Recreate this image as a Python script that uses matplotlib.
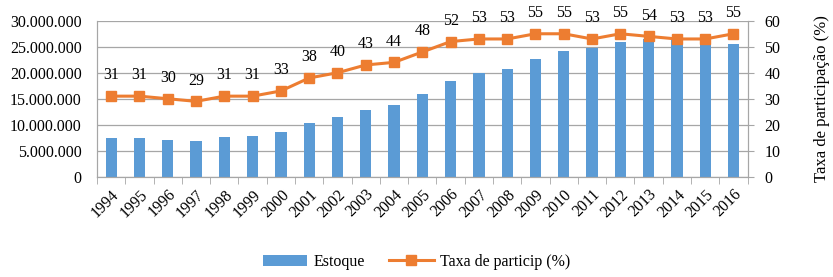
import matplotlib
matplotlib.use("Agg")
import matplotlib.pyplot as plt
import numpy as np
from matplotlib.ticker import FuncFormatter, FixedLocator

years = [str(y) for y in range(1994, 2017)]
estoque = [7.5e6, 7.5e6, 7.05e6, 6.86e6, 7.63e6, 7.82e6, 8.59e6, 10.32e6, 11.47e6, 12.82e6,
           13.78e6, 16.0e6, 18.4e6, 20.0e6, 20.7e6, 22.6e6, 24.2e6, 24.7e6, 25.9e6, 26.5e6,
           26.3e6, 25.6e6, 25.5e6]
taxa = [31, 31, 30, 29, 31, 31, 33, 38, 40, 43, 44, 48, 52, 53, 53, 55, 55, 53, 55, 54, 53, 53, 55]

plt.rcParams['font.family'] = ['Liberation Serif', 'DejaVu Serif']
fs = 11.5
fig = plt.figure(figsize=(8.33, 2.77), dpi=100)
ax = fig.add_axes([0.1165, 0.362, 0.781, 0.563])
ax2 = ax.twinx()

x = np.arange(len(years))
bar_c = '#5B9BD5'
line_c = '#ED7D31'
grid_c = '#A6A6A6'

ax.bar(x, estoque, width=0.4, color=bar_c, zorder=2, label='Estoque')
ax.set_ylim(0, 30e6)
ax.set_yticks(np.arange(0, 30e6 + 1, 5e6))
ax.yaxis.set_major_formatter(FuncFormatter(lambda v, p: f"{int(v):,}".replace(',', '.')))
ax.set_xlim(-0.5, len(years) - 0.5)
ax.set_xticks(x)
ax.set_xticklabels(years, rotation=45, ha='right', rotation_mode='anchor', fontsize=fs)
ax.xaxis.set_minor_locator(FixedLocator(np.arange(-0.5, len(years), 1)))
ax.tick_params(axis='x', which='major', length=0, pad=7)
ax.tick_params(axis='x', which='minor', length=5, color=grid_c)
ax.tick_params(axis='y', length=0, labelsize=fs, pad=11)
ax.grid(axis='y', color=grid_c, linewidth=0.9, zorder=0)
ax.set_axisbelow(True)

ax2.plot(x, taxa, color=line_c, linewidth=2.2, marker='s', markersize=7, zorder=3,
         label='Taxa de particip (%)')
ax2.set_ylim(0, 60)
ax2.set_yticks(np.arange(0, 61, 10))
ax2.tick_params(axis='y', length=4, color=grid_c, labelsize=fs, pad=8)
ax2.set_ylabel('Taxa de participação (%)', fontsize=fs + 0.5, labelpad=24)
for xi, t in zip(x, taxa):
    ax2.annotate(str(t), (xi, t), xytext=(0, 15), textcoords='offset points',
                 ha='center', va='center', fontsize=fs)

for a in (ax, ax2):
    a.spines['top'].set_visible(False)
    for s in ('left', 'right', 'bottom'):
        a.spines[s].set_color(grid_c)

h1, l1 = ax.get_legend_handles_labels()
h2, l2 = ax2.get_legend_handles_labels()
fig.legend(h1 + h2, l1 + l2, loc='center', bbox_to_anchor=(0.5, 0.055), ncol=2,
           frameon=False, fontsize=fs, handlelength=2.8, columnspacing=1.5, handletextpad=0.4)

fig.savefig('out.png', dpi=100)
